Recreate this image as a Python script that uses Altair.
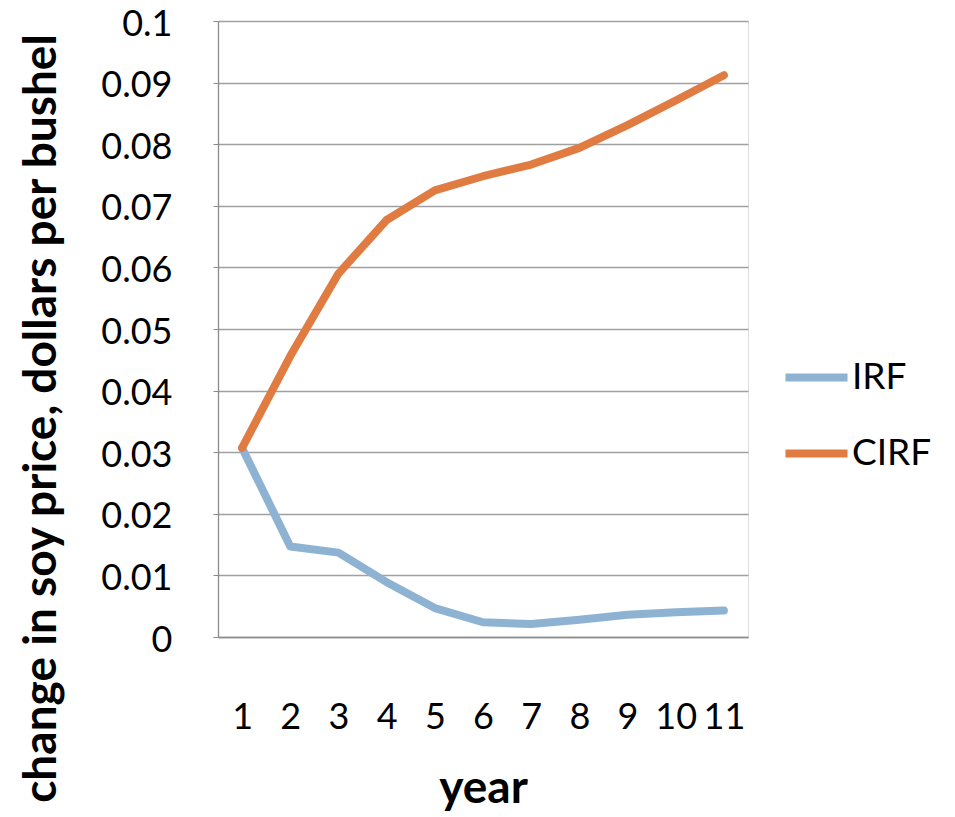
import altair as alt
import pandas as pd

# Impulse response (IRF) and cumulative impulse response (CIRF) by year
years = [1, 2, 3, 4, 5, 6, 7, 8, 9, 10, 11]
irf = [0.0307, 0.0147, 0.0137, 0.0089, 0.0047, 0.0024, 0.0021, 0.0028, 0.0036, 0.0040, 0.0043]
cirf = [0.0307, 0.0456, 0.0590, 0.0677, 0.0725, 0.0748, 0.0767, 0.0794, 0.0831, 0.0871, 0.0912]
series_names = ["IRF", "CIRF"]
series_colors = ["#8EB3D2", "#E07C42"]
y_ticks = [0, 0.01, 0.02, 0.03, 0.04, 0.05, 0.06, 0.07, 0.08, 0.09, 0.1]

rows = []
for i, yr in enumerate(years):
    rows.append({"year": yr, "series": "IRF", "value": irf[i]})
    rows.append({"year": yr, "series": "CIRF", "value": cirf[i]})
df = pd.DataFrame(rows)

FONT = "Lato"

chart = (
    alt.Chart(df)
    .mark_line(strokeWidth=8, strokeCap="round", strokeJoin="round")
    .encode(
        x=alt.X(
            "year:O",
            title="year",
            scale=alt.Scale(paddingInner=0, paddingOuter=0.5),
            axis=alt.Axis(
                labelAngle=0,
                labelFont=FONT,
                labelFontSize=36,
                labelColor="#000000",
                labelPadding=63,
                ticks=False,
                domainColor="#8c8c8c",
                domainWidth=1.3,
                grid=False,
                titleFont=FONT,
                titleFontSize=46,
                titleFontWeight="bold",
                titleColor="#000000",
                titlePadding=31,
            ),
        ),
        y=alt.Y(
            "value:Q",
            title="change in soy price, dollars per bushel",
            scale=alt.Scale(domain=[0, 0.1], nice=False),
            axis=alt.Axis(
                values=y_ticks,
                format=".2~f",
                labelFont=FONT,
                labelFontSize=36,
                labelColor="#000000",
                labelPadding=41,
                labelOffset=3,
                tickSize=5,
                tickColor="#8c8c8c",
                domainColor="#8c8c8c",
                domainWidth=1.3,
                gridColor="#a0a0a0",
                gridWidth=1.3,
                titleFont=FONT,
                titleFontSize=46,
                titleFontWeight="bold",
                titleColor="#000000",
                titlePadding=35,
                titleY=397,
            ),
        ),
        color=alt.Color(
            "series:N",
            scale=alt.Scale(domain=series_names, range=series_colors),
            sort=series_names,
            legend=alt.Legend(
                title=None,
                orient="none",
                legendX=563,
                legendY=321,
                symbolType="stroke",
                symbolStrokeWidth=8,
                symbolSize=3850,
                labelFont=FONT,
                labelFontSize=37,
                labelColor="#000000",
                labelOffset=0,
                rowPadding=22,
            ),
        ),
    )
    .properties(width=530, height=616, padding={"left": 18, "top": 6, "right": 5, "bottom": 0})
    .configure_view(stroke=None)
    .configure(background="#ffffff")
)

chart.save("out.html", embed_options={"renderer": "svg", "actions": False})
